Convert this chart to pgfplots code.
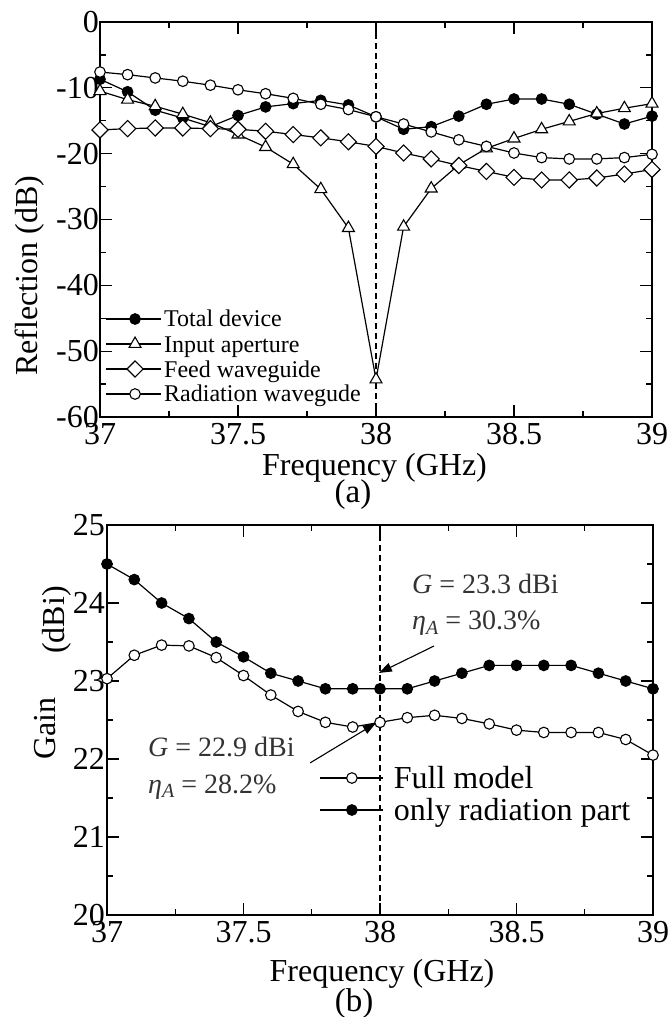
\documentclass[border=0pt]{standalone}
\usepackage{fontspec}
\setmainfont{Liberation Serif}
\usepackage{pgfplots}
\pgfplotsset{compat=1.18}
\usetikzlibrary{arrows.meta}

\newcommand{\fsz}[1]{\fontsize{#1bp}{#1bp}\selectfont}

\pgfplotsset{
  panel/.style={
    scale only axis, clip=false,
    axis line style={line width=1.5bp},
    tick align=inside, tick pos=both,
    major tick length=12bp, minor tick length=6bp,
    tick style={black, line width=1.3bp},
    minor x tick num=1, minor y tick num=1,
    xmin=37, xmax=39,
    xtick={37,37.5,38,38.5,39}, xticklabels={37,37.5,38,38.5,39},
    tick label style={font=\fsz{32}, inner sep=0pt},
    xticklabel style={yshift=-6bp},
  },
  dline/.style={black, line width=1.2bp},
  fdot/.style={mark=*, mark size=5.3bp, mark options={solid, line width=1.1bp, fill=black}},
  odot/.style={mark=*, mark size=5.3bp, mark options={solid, line width=1.1bp, fill=white}},
  otri/.style={mark=triangle*, mark size=6.9bp, mark options={solid, line width=1.1bp, fill=white}},
  odia/.style={mark=square*, mark size=5.7bp, mark options={solid, line width=1.1bp, fill=white, rotate=45}},
}

\begin{document}
\begin{tikzpicture}[x=1bp, y=1bp]
\useasboundingbox (0,0) rectangle (670,1017);

% (a) reflection
\begin{axis}[panel, at={(100bp,600bp)}, anchor=south west,
  width=552bp, height=395bp,
  ymin=-60, ymax=0, ytick={-60,-50,-40,-30,-20,-10,0},
  yticklabels={-60,-50,-40,-30,-20,-10,0},
  yticklabel style={xshift=-1bp},
]
\addplot[black, line width=1.1bp, dash pattern=on 6bp off 4bp, forget plot]
  coordinates {(38,-1.7) (38,-60)};
% total device
\addplot[dline, fdot] coordinates {
(37.0,-8.7) (37.1,-10.6) (37.2,-13.4) (37.3,-14.6) (37.4,-15.9)
(37.5,-14.2) (37.6,-12.9) (37.7,-12.4) (37.8,-11.9) (37.9,-12.6)
(38.0,-14.4) (38.1,-16.3) (38.2,-15.9) (38.3,-14.3) (38.4,-12.5)
(38.5,-11.7) (38.6,-11.7) (38.7,-12.5) (38.8,-14.0) (38.9,-15.5)
(39.0,-14.3)
};
% input aperture
\addplot[dline, otri] coordinates {
(37.0,-10.5) (37.1,-11.8) (37.2,-12.8) (37.3,-14.0) (37.4,-15.3)
(37.5,-17.1) (37.6,-19.0) (37.7,-21.6) (37.8,-25.4) (37.9,-31.3)
(38.0,-54.3) (38.1,-31.1) (38.2,-25.3) (38.3,-21.7) (38.4,-19.2)
(38.5,-17.7) (38.6,-16.3) (38.7,-15.1) (38.8,-13.9) (38.9,-13.1)
(39.0,-12.4)
};
% feed waveguide
\addplot[dline, odia] coordinates {
(37.0,-16.4) (37.1,-16.2) (37.2,-16.1) (37.3,-16.1) (37.4,-16.2)
(37.5,-16.3) (37.6,-16.6) (37.7,-17.1) (37.8,-17.6) (37.9,-18.2)
(38.0,-18.9) (38.1,-19.9) (38.2,-20.8) (38.3,-21.8) (38.4,-22.7)
(38.5,-23.6) (38.6,-24.0) (38.7,-24.0) (38.8,-23.7) (38.9,-23.1)
(39.0,-22.4)
};
% radiation waveguide
\addplot[dline, odot] coordinates {
(37.0,-7.6) (37.1,-8.0) (37.2,-8.5) (37.3,-9.0) (37.4,-9.6)
(37.5,-10.3) (37.6,-10.9) (37.7,-11.6) (37.8,-12.5) (37.9,-13.3)
(38.0,-14.4) (38.1,-15.5) (38.2,-16.7) (38.3,-17.9) (38.4,-18.9)
(38.5,-19.9) (38.6,-20.6) (38.7,-20.8) (38.8,-20.8) (38.9,-20.6)
(39.0,-20.1)
};
% legend samples
\addplot[dline, fdot, mark repeat=2, mark phase=2, forget plot]
  coordinates {(37.022,-45.12) (37.127,-45.12) (37.22,-45.12)};
\addplot[dline, otri, mark repeat=2, mark phase=2, forget plot]
  coordinates {(37.022,-48.91) (37.127,-48.91) (37.22,-48.91)};
\addplot[dline, odia, mark repeat=2, mark phase=2, forget plot]
  coordinates {(37.022,-52.71) (37.127,-52.71) (37.22,-52.71)};
\addplot[dline, odot, mark repeat=2, mark phase=2, forget plot]
  coordinates {(37.022,-56.51) (37.127,-56.51) (37.22,-56.51)};
\node[anchor=base west, inner sep=0pt, font=\fsz{24}] at (axis cs:37.232,-46.33) {Total device};
\node[anchor=base west, inner sep=0pt, font=\fsz{24}] at (axis cs:37.232,-50.13) {Input aperture};
\node[anchor=base west, inner sep=0pt, font=\fsz{24}] at (axis cs:37.232,-53.93) {Feed waveguide};
\node[anchor=base west, inner sep=0pt, font=\fsz{24}] at (axis cs:37.232,-57.72) {Radiation wavegude};
\end{axis}

% (b) gain
\begin{axis}[panel, at={(107bp,102bp)}, anchor=south west,
  width=546bp, height=390bp,
  ymin=20, ymax=25, ytick={20,21,22,23,24,25},
  yticklabels={20,21,22,23,24,25},
  yticklabel style={xshift=-2bp},
]
\addplot[black, line width=1.1bp, dash pattern=on 6bp off 4bp, forget plot]
  coordinates {(38,25) (38,20)};
% full model
\addplot[dline, odot] coordinates {
(37.0,23.03) (37.1,23.33) (37.2,23.46) (37.3,23.45) (37.4,23.30)
(37.5,23.07) (37.6,22.82) (37.7,22.61) (37.8,22.47) (37.9,22.41)
(38.0,22.47) (38.1,22.53) (38.2,22.56) (38.3,22.52) (38.4,22.45)
(38.5,22.37) (38.6,22.34) (38.7,22.34) (38.8,22.34) (38.9,22.25)
(39.0,22.05)
};
% only radiation part
\addplot[dline, fdot] coordinates {
(37.0,24.50) (37.1,24.30) (37.2,24.00) (37.3,23.80) (37.4,23.50)
(37.5,23.31) (37.6,23.10) (37.7,23.00) (37.8,22.90) (37.9,22.90)
(38.0,22.90) (38.1,22.90) (38.2,23.00) (38.3,23.10) (38.4,23.20)
(38.5,23.20) (38.6,23.20) (38.7,23.20) (38.8,23.10) (38.9,23.00)
(39.0,22.90)
};
% legend samples
\addplot[dline, odot, mark repeat=2, mark phase=2, forget plot]
  coordinates {(37.78,21.756) (37.897,21.756) (38.01,21.756)};
\addplot[dline, fdot, mark repeat=2, mark phase=2, forget plot]
  coordinates {(37.78,21.346) (37.897,21.346) (38.01,21.346)};
\node[anchor=base west, inner sep=0pt, font=\fsz{32}] at (axis cs:38.05,21.622) {Full model};
\node[anchor=base west, inner sep=0pt, font=\fsz{32}] at (axis cs:38.05,21.212) {only radiation part};
% annotations
\node[anchor=base west, inner sep=0pt, font=\fsz{28}, text=black!80] at (axis cs:38.117,24.128)
  {\textit{G} = 23.3 dBi};
\node[anchor=base west, inner sep=0pt, font=\fsz{28}, text=black!80] at (axis cs:38.117,23.654)
  {\textit{η}\raisebox{-0.35ex}{\fsz{20}\textit{A}} = 30.3\%};
\node[anchor=base west, inner sep=0pt, font=\fsz{28}, text=black!80] at (axis cs:37.150,22.026)
  {\textit{G} = 22.9 dBi};
\node[anchor=base west, inner sep=0pt, font=\fsz{28}, text=black!80] at (axis cs:37.150,21.564)
  {\textit{η}\raisebox{-0.35ex}{\fsz{20}\textit{A}} = 28.2\%};
\draw[line width=1.1bp, -{Triangle[length=13bp, width=9bp]}]
  (axis cs:38.198,23.449) -- (axis cs:37.996,23.103);
\draw[line width=1.1bp, -{Triangle[length=13bp, width=9bp]}]
  (axis cs:37.744,21.95) -- (axis cs:37.985,22.46);
\end{axis}

% axis titles and panel tags
\node[anchor=base, rotate=90, inner sep=0pt, font=\fsz{32}] at (37,741) {Reflection (dB)};
\node[anchor=base, inner sep=0pt, font=\fsz{32}] at (374.5,541) {Frequency (GHz)};
\node[anchor=base, inner sep=0pt, font=\fsz{33}] at (353,514) {(a)};
\node[anchor=base, rotate=90, inner sep=0pt, font=\fsz{32}] at (55,288.5) {Gain};
\node[anchor=base, rotate=90, inner sep=0pt, font=\fsz{32}] at (64,397) {(dBi)};
\node[anchor=base, inner sep=0pt, font=\fsz{32}] at (382,35) {Frequency (GHz)};
\node[anchor=base, inner sep=0pt, font=\fsz{33}] at (354,5) {(b)};
\end{tikzpicture}
\end{document}
